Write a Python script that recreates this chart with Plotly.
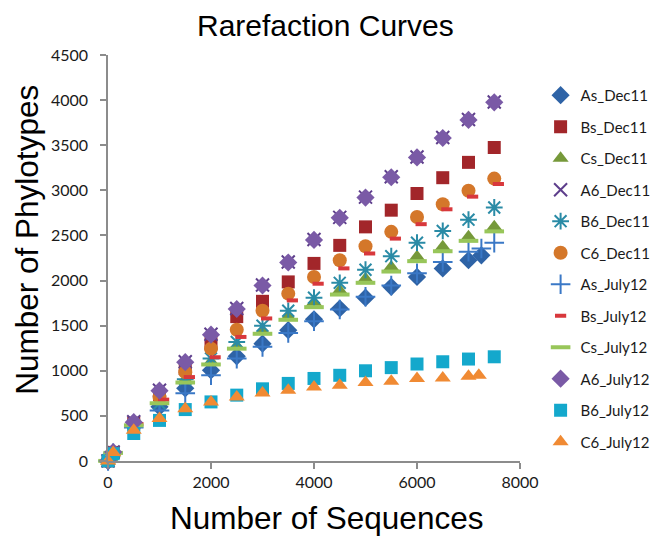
import plotly.graph_objects as go

# ---- data ----
x_std = [1, 100, 500, 1000, 1500, 2000, 2500, 3000, 3500, 4000, 4500, 5000, 5500, 6000, 6500, 7000, 7500]
x_as_dec = [1, 100, 500, 1000, 1500, 2000, 2500, 3000, 3500, 4000, 4500, 5000, 5500, 6000, 6500, 7000, 7250]
x_as_jul = [1, 100, 500, 1000, 1500, 2000, 2500, 3000, 3500, 4000, 4500, 5000, 5500, 6000, 6500, 7000, 7250, 7500]
x_bs_jul = [1, 100, 580, 1080, 1580, 2080, 2580, 3080, 3580, 4080, 4580, 5080, 5580, 6080, 6580, 7080, 7580]
x_c6_jul = [1, 100, 500, 1000, 1500, 2000, 2500, 3000, 3500, 4000, 4500, 5000, 5500, 6000, 6500, 7000, 7200]

as_dec11 = [1, 90, 390, 600, 805, 1005, 1160, 1300, 1450, 1570, 1690, 1810, 1930, 2040, 2135, 2225, 2280]
bs_dec11 = [1, 95, 420, 735, 1025, 1300, 1600, 1770, 1985, 2190, 2390, 2595, 2780, 2965, 3140, 3310, 3475]
cs_dec11 = [1, 90, 405, 665, 900, 1100, 1275, 1440, 1600, 1760, 1890, 2020, 2150, 2265, 2375, 2485, 2595]
a6_dec11 = [1, 100, 435, 785, 1100, 1405, 1690, 1950, 2205, 2455, 2700, 2925, 3150, 3370, 3585, 3785, 3980]
b6_dec11 = [1, 90, 400, 640, 905, 1135, 1320, 1500, 1665, 1810, 1975, 2120, 2270, 2420, 2550, 2675, 2810]
c6_dec11 = [1, 95, 415, 710, 985, 1245, 1455, 1665, 1855, 2040, 2225, 2380, 2540, 2705, 2845, 2995, 3130]
as_jul12 = [1, 85, 370, 560, 750, 950, 1135, 1265, 1420, 1550, 1680, 1820, 1945, 2080, 2205, 2320, 2355, 2420]
bs_jul12 = [1, 95, 410, 680, 930, 1150, 1375, 1580, 1780, 1965, 2135, 2300, 2465, 2625, 2790, 2930, 3070]
cs_jul12 = [1, 90, 395, 640, 870, 1070, 1245, 1410, 1565, 1705, 1845, 1975, 2100, 2215, 2325, 2440, 2545]
a6_jul12 = [1, 100, 430, 780, 1095, 1400, 1685, 1945, 2200, 2450, 2695, 2920, 3145, 3365, 3580, 3780, 3975]
b6_jul12 = [1, 80, 305, 450, 570, 655, 730, 800, 860, 915, 950, 1000, 1035, 1075, 1100, 1130, 1155]
c6_jul12 = [1, 95, 340, 470, 580, 655, 710, 755, 785, 820, 840, 870, 885, 915, 920, 940, 950]

series_names = ["As_Dec11", "Bs_Dec11", "Cs_Dec11", "A6_Dec11", "B6_Dec11", "C6_Dec11",
                "As_July12", "Bs_July12", "Cs_July12", "A6_July12", "B6_July12", "C6_July12"]

series = [
    (x_as_dec, as_dec11, dict(symbol="diamond", size=14, color="#2E63A6")),
    (x_std, bs_dec11, dict(symbol="square", size=13, color="#A2262A")),
    (x_std, cs_dec11, dict(symbol="triangle-up", size=14, color="#76993A")),
    (x_std, a6_dec11, dict(symbol="x-thin", size=13, color="#5E3F8C", line=dict(color="#5E3F8C", width=2))),
    (x_std, b6_dec11, dict(symbol="asterisk", size=14, color="#2A8BA6", line=dict(color="#2A8BA6", width=2))),
    (x_std, c6_dec11, dict(symbol="circle", size=14, color="#D4772A")),
    (x_as_jul, as_jul12, dict(symbol="cross-thin", size=14, color="#3A78C6", line=dict(color="#3A78C6", width=2))),
    (x_bs_jul, bs_jul12, dict(symbol="line-ew", size=8, color="#D8383C", line=dict(color="#D8383C", width=4))),
    (x_std, cs_jul12, dict(symbol="line-ew", size=14, color="#98C65A", line=dict(color="#98C65A", width=4))),
    (x_std, a6_jul12, dict(symbol="diamond", size=14, color="#7A5AA6")),
    (x_std, b6_jul12, dict(symbol="square", size=13, color="#14A8CC")),
    (x_c6_jul, c6_jul12, dict(symbol="triangle-up", size=14, color="#F08A33")),
]

fig = go.Figure()
for name, (xs, ys, mk) in zip(series_names, series):
    fig.add_trace(go.Scatter(x=xs, y=ys, mode="markers", name=name, marker=mk,
                             cliponaxis=False, legendgroup=name))

axis_col = "#8C8C8C"
fig.update_layout(
    width=652, height=536,
    margin=dict(l=108, r=132, t=55, b=75, autoexpand=False),
    plot_bgcolor="white", paper_bgcolor="white",
    font=dict(family="Lato, Arial, sans-serif", color="#1a1a1a"),
    showlegend=True,
    legend=dict(x=1.05, y=0.941, xanchor="left", yanchor="top",
                font=dict(family="Lato, sans-serif", size=15, color="#1a1a1a"),
                tracegroupgap=9, itemwidth=30, bgcolor="rgba(0,0,0,0)"),
    xaxis=dict(range=[0, 8000], tickvals=[0, 2000, 4000, 6000, 8000],
               showgrid=False, zeroline=False, showline=True, linecolor=axis_col, linewidth=1.5,
               ticks="outside", ticklen=6, tickcolor=axis_col, tickwidth=1.5,
               tickfont=dict(family="Lato, sans-serif", size=16, color="#1a1a1a")),
    yaxis=dict(range=[0, 4500], tickvals=[0, 500, 1000, 1500, 2000, 2500, 3000, 3500, 4000, 4500],
               showgrid=False, zeroline=False, showline=True, linecolor=axis_col, linewidth=1.5,
               ticks="outside", ticklen=6, tickcolor=axis_col, tickwidth=1.5, ticklabelstandoff=9,
               tickfont=dict(family="Lato, sans-serif", size=16, color="#1a1a1a")),
    annotations=[
        dict(text="Rarefaction Curves", xref="paper", yref="paper", x=0.529, y=1.0,
             xanchor="center", yanchor="bottom", yshift=11, showarrow=False,
             font=dict(family="Liberation Sans, Arial, sans-serif", size=30, color="black")),
        dict(text="Number of Sequences", xref="paper", yref="paper", x=0.530, y=0,
             xanchor="center", yanchor="top", yshift=-37, showarrow=False,
             font=dict(family="Liberation Sans, Arial, sans-serif", size=31.5, color="black")),
        dict(text="Number of Phylotypes", xref="paper", yref="paper", x=0, y=0.545,
             xanchor="center", yanchor="middle", xshift=-81, textangle=-90, showarrow=False,
             font=dict(family="Liberation Sans, Arial, sans-serif", size=31.5, color="black")),
    ],
)

fig.write_html("out.html")
